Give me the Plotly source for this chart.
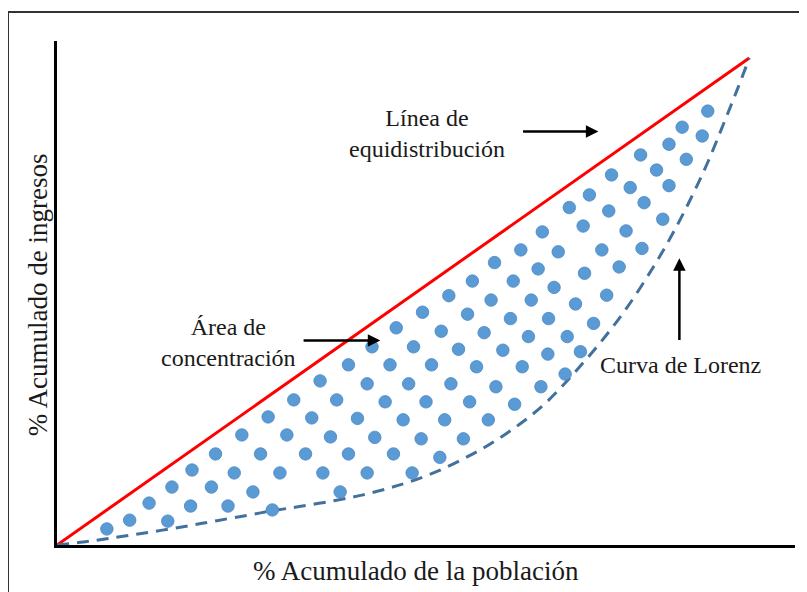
import plotly.graph_objects as go

# Línea de equidistribución (igualdad perfecta)
igualdad_x = [0, 100]
igualdad_y = [0, 100]

# Curva de Lorenz (% acumulado de población vs. % acumulado de ingresos)
lorenz_x = [0, 3.8, 7.2, 11.0, 15.0, 19.2, 23.1, 27.5, 31.0, 35.0, 40.0, 44.2, 48.0,
            51.0, 54.9, 58.7, 61.6, 64.5, 67.3, 70.0, 72.5, 75.0, 78.5, 82.3, 86.1,
            88.8, 91.5, 94.0, 96.2, 98.2, 100]
lorenz_y = [0, 0.6, 1.3, 2.1, 3.0, 4.0, 5.0, 6.1, 7.0, 7.9, 9.1, 10.3, 11.7,
            13.0, 15.1, 17.7, 19.9, 22.5, 25.3, 28.4, 31.9, 35.8, 41.6, 48.7, 57.0,
            63.6, 71.0, 78.6, 86.2, 93.3, 100]

# Puntos que rellenan el área de concentración
puntos_x = [7.2, 10.5, 13.3, 16.0, 16.6, 19.3, 19.5, 22.3, 22.9, 24.7, 25.6, 26.7, 28.3,
            29.4, 30.5, 31.1, 32.2, 33.2, 34.2, 35.9, 36.8, 38.0, 38.4, 39.5, 40.4, 40.9,
            42.1, 44.8, 43.4, 42.1, 44.8, 45.9, 47.4, 48.6, 50.0, 50.8, 48.1, 51.3, 52.6,
            53.3, 54.1, 55.3, 56.0, 56.9, 58.7, 59.6, 60.6, 62.3, 63.4, 66.1, 67.2, 69.9,
            70.1, 67.0, 72.4, 63.2, 69.5, 60.0, 65.9, 71.8, 56.6, 62.7, 68.5, 52.8, 59.3,
            65.5, 71.0, 49.0, 55.5, 61.7, 68.1, 45.5, 51.5, 58.0, 64.4, 70.9,
            82.2, 78.7, 84.5, 76.2, 81.2, 79.4, 74.9, 77.5, 73.7, 75.6, 73.4,
            94.0, 90.3, 93.2, 88.4, 84.3, 90.9, 86.6, 80.1, 88.4, 82.8, 76.9, 84.8, 74.0,
            79.7, 87.5, 76.0]
puntos_y = [3.3, 5.1, 8.6, 4.9, 11.9, 8.0, 15.4, 11.9, 18.7, 8.0, 14.8, 22.6, 10.9,
            18.7, 26.3, 7.2, 14.8, 22.6, 29.8, 18.7, 26.1, 33.7, 14.8, 22.2, 29.8, 10.9,
            37.0, 33.1, 26.0, 18.7, 14.8, 22.1, 29.4, 18.7, 25.7, 33.1, 37.0, 14.8, 21.8,
            29.4, 37.0, 18.0, 25.7, 33.1, 21.8, 29.4, 36.6, 25.7, 32.5, 28.9, 36.6, 32.5,
            64.3, 60.6, 60.2, 58.0, 56.7, 54.2, 54.2, 52.9, 51.2, 50.3, 50.3, 47.8, 47.4,
            46.5, 46.5, 44.6, 43.9, 43.6, 42.8, 40.7, 40.7, 40.2, 40.0, 39.2,
            64.5, 60.6, 60.9, 55.8, 57.1, 51.3, 49.5, 45.5, 42.8, 39.7, 35.1,
            89.1, 85.8, 84.0, 82.3, 80.1, 79.2, 77.0, 76.0, 73.8, 73.4, 71.9, 70.3, 69.3,
            68.6, 66.9, 65.5]

fuente = "Liberation Serif, Times New Roman, serif"
texto = "#1a1a1a"

fig = go.Figure()

fig.add_trace(go.Scatter(x=igualdad_x, y=igualdad_y, mode="lines",
                         line=dict(color="#ff0000", width=3), hoverinfo="skip"))
fig.add_trace(go.Scatter(x=lorenz_x, y=lorenz_y, mode="lines",
                         line=dict(color="#41719c", width=3, dash="12px,8px",
                                   shape="spline", smoothing=1.0),
                         hoverinfo="skip"))
fig.add_trace(go.Scatter(x=puntos_x, y=puntos_y, mode="markers",
                         marker=dict(color="#5b9bd5", size=12.5,
                                     line=dict(color="#4a86c0", width=0.8)),
                         hoverinfo="skip"))

# Etiquetas
fig.add_annotation(x=53.5, y=84.6, text="Línea de<br>equidistribución", showarrow=False,
                   font=dict(family=fuente, size=24, color=texto))
fig.add_annotation(x=24.7, y=41.5, text="Área de<br>concentración", showarrow=False,
                   font=dict(family=fuente, size=24, color=texto))
fig.add_annotation(x=90.0, y=37.0, text="Curva de Lorenz", showarrow=False,
                   font=dict(family=fuente, size=24, color=texto))

# Flechas
flecha = dict(showarrow=True, text="", axref="x", ayref="y", arrowhead=2,
              arrowsize=1, arrowwidth=2.5, arrowcolor="black")
fig.add_annotation(x=78.2, y=84.9, ax=67.1, ay=84.9, **flecha)
fig.add_annotation(x=46.7, y=42.0, ax=35.4, ay=42.0, **flecha)
fig.add_annotation(x=89.9, y=58.9, ax=89.9, ay=41.8, **flecha)

# Títulos de los ejes
fig.add_annotation(x=51.9, y=0, yref="paper", yshift=-26, yanchor="middle", xanchor="center",
                   text="% Acumulado de la población", showarrow=False,
                   font=dict(family=fuente, size=27, color=texto))
fig.add_annotation(x=0, xref="paper", xshift=-19, y=51.3, xanchor="center", yanchor="middle",
                   text="% Acumulado de ingresos", textangle=-90, showarrow=False,
                   font=dict(family=fuente, size=27, color=texto))

# Marco exterior
fig.add_shape(type="rect", xref="paper", yref="paper", x0=-0.0664, x1=1.05,
              y0=-0.15, y1=1.0575, line=dict(color="#333333", width=2))

fig.update_xaxes(range=[0, 106.6], showline=True, linewidth=3, linecolor="black",
                 showgrid=False, zeroline=False, showticklabels=False, ticks="")
fig.update_yaxes(range=[0, 103.5], showline=True, linewidth=3, linecolor="black",
                 showgrid=False, zeroline=False, showticklabels=False, ticks="")

fig.update_layout(width=807, height=592, showlegend=False,
                  margin=dict(l=49, r=20, t=33, b=55),
                  paper_bgcolor="white", plot_bgcolor="white")

fig.write_html("out.html")
